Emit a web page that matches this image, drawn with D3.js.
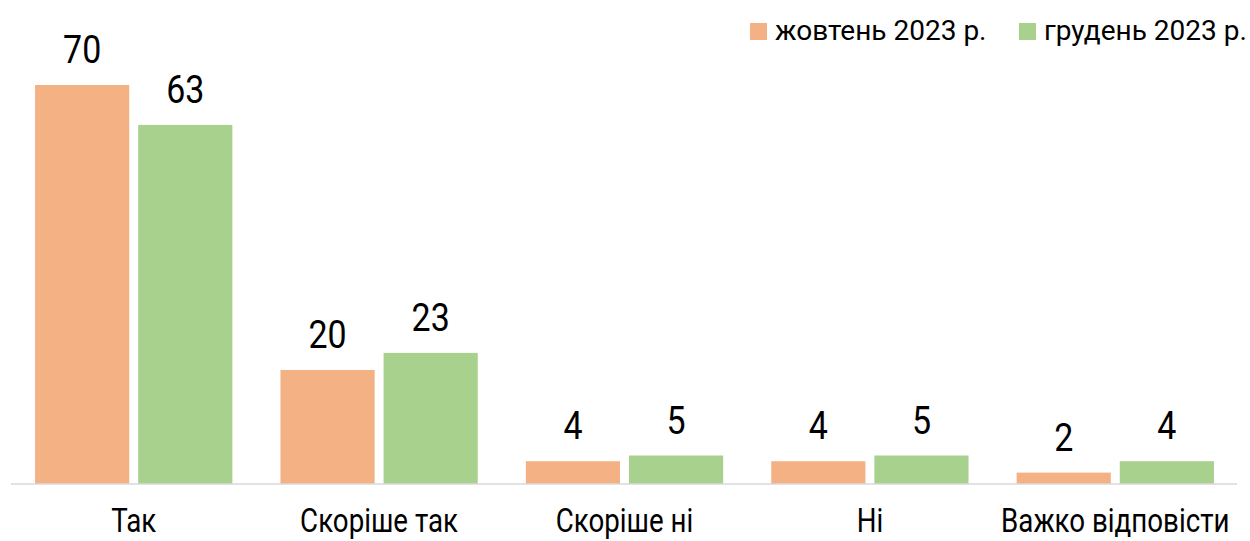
<!DOCTYPE html>
<html>
<head>
<meta charset="utf-8">
<script src="https://cdn.jsdelivr.net/npm/d3@7"></script>
<style>
  body { margin: 0; background: #fff; }
  text { font-family: Roboto, "Liberation Sans", sans-serif; fill: #000; }
</style>
</head>
<body>
<div id="chart-area"></div>
<script>
// data
var categories = ["Так", "Скоріше так", "Скоріше ні", "Ні", "Важко відповісти"];
var seriesNames = ["жовтень 2023 р.", "грудень 2023 р."];
var october = [70, 20, 4, 4, 2];
var december = [63, 23, 5, 5, 4];
var colors = ["#F4B183", "#A9D18E"];

var width = 1250, height = 541;
var baseY = 484;

var svg = d3.select("#chart-area").append("svg")
  .attr("width", width)
  .attr("height", height);

// x scales
var x0 = d3.scaleBand()
  .domain(categories)
  .range([12, 1237])
  .paddingInner(0.196)
  .paddingOuter(0.094);

var x1 = d3.scaleBand()
  .domain(seriesNames)
  .range([0, x0.bandwidth()])
  .paddingInner(0.087);

// y scale
var y = d3.scaleLinear()
  .domain([0, 70])
  .range([baseY, 85]);

var rows = categories.map(function(c, i) {
  return { cat: c, values: [october[i], december[i]] };
});

var groups = svg.selectAll("g.grp")
  .data(rows)
  .enter().append("g")
    .attr("class", "grp")
    .attr("transform", function(d) { return "translate(" + x0(d.cat) + ",0)"; });

groups.selectAll("rect")
  .data(function(d) { return d.values.map(function(v, j) { return { s: seriesNames[j], v: v, j: j }; }); })
  .enter().append("rect")
    .attr("x", function(d) { return x1(d.s); })
    .attr("y", function(d) { return y(d.v); })
    .attr("width", x1.bandwidth())
    .attr("height", function(d) { return baseY - y(d.v); })
    .attr("fill", function(d) { return colors[d.j]; });

// value labels (narrowed to mimic a condensed face)
groups.selectAll("text.val")
  .data(function(d) { return d.values.map(function(v, j) { return { s: seriesNames[j], v: v }; }); })
  .enter().append("text")
    .attr("class", "val")
    .attr("transform", function(d) {
      return "translate(" + (x1(d.s) + x1.bandwidth() / 2) + "," + (y(d.v) - 22) + ") scale(0.87,1)";
    })
    .attr("text-anchor", "middle")
    .attr("font-size", "39px")
    .text(function(d) { return d.v; });

// baseline axis
var xAxis = d3.axisBottom(x0).tickSize(0).tickPadding(0);
var axisG = svg.append("g")
  .attr("transform", "translate(0," + baseY + ")")
  .call(xAxis);
axisG.select(".domain").attr("stroke", "#d9d9d9").attr("stroke-width", 1.5)
  .attr("d", "M11,0H1237");
axisG.selectAll(".tick text")
  .attr("dy", null)
  .attr("y", 48)
  .attr("transform", "scale(0.84,1)")
  .attr("font-size", "33px")
  .attr("fill", "#000")
  .attr("font-family", "Roboto, sans-serif");

// legend
var legendX = [750, 1019];
var legend = svg.selectAll("g.leg")
  .data(seriesNames)
  .enter().append("g")
    .attr("class", "leg")
    .attr("transform", function(d, i) { return "translate(" + legendX[i] + ",23)"; });

legend.append("rect")
  .attr("width", 17)
  .attr("height", 17)
  .attr("fill", function(d, i) { return colors[i]; });

legend.append("text")
  .attr("x", 25)
  .attr("y", 17)
  .attr("font-size", "28px")
  .text(function(d) { return d; });
</script>
</body>
</html>
